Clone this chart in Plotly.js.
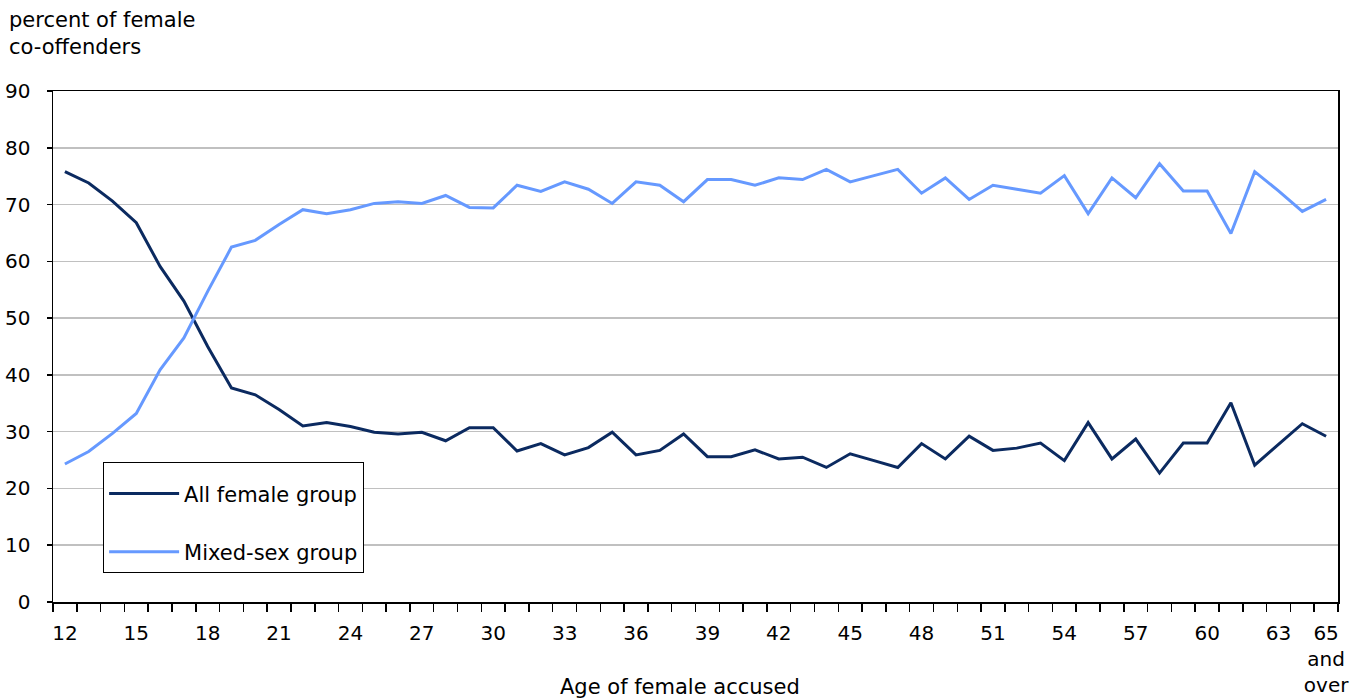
<!DOCTYPE html>
<html>
<head>
<meta charset="utf-8">
<script src="https://cdn.plot.ly/plotly-3.0.1.min.js"></script>
<style>
html,body{margin:0;padding:0;background:#fff;}
#chart{width:1366px;height:700px;}
</style>
</head>
<body>
<div id="chart"></div>
<script>
const ages = [12,13,14,15,16,17,18,19,20,21,22,23,24,25,26,27,28,29,30,31,32,33,34,35,36,37,38,39,40,41,42,43,44,45,46,47,48,49,50,51,52,53,54,55,56,57,58,59,60,61,62,63,64,65];
const allFemale = [75.8,73.8,70.6,66.8,59.1,53.0,45.0,37.7,36.5,33.9,
  31.0,31.6,30.9,29.9,29.6,29.9,28.4,30.7,30.7,26.6,
  27.9,25.9,27.2,29.9,25.9,26.7,29.6,25.6,25.6,26.8,
  25.2,25.5,23.7,26.1,24.9,23.7,27.9,25.2,29.2,26.7,
  27.1,28.0,24.9,31.6,25.2,28.7,22.7,28.0,28.0,35.1,
  24.1,27.7,31.4,29.2];
const mixedSex = [24.3,26.5,29.7,33.2,40.9,46.5,54.7,62.5,63.7,66.5,
  69.1,68.4,69.1,70.2,70.5,70.2,71.6,69.5,69.4,73.4,
  72.3,74.0,72.7,70.2,74.0,73.4,70.5,74.4,74.4,73.4,
  74.7,74.4,76.2,74.0,75.1,76.2,72.0,74.7,70.9,73.4,
  72.7,72.0,75.1,68.4,74.7,71.2,77.2,72.4,72.4,64.9,
  75.8,72.4,68.8,70.9];
const xTickVals = [12,15,18,21,24,27,30,33,36,39,42,45,48,51,54,57,60,63,65];
const xTickText = ['12','15','18','21','24','27','30','33','36','39','42','45','48','51','54','57','60','63','65<br>and<br>over'];
const yTickVals = [0,10,20,30,40,50,60,70,80,90];

const FONT = 'DejaVu Sans, Verdana, sans-serif';

const traces = [
  {x: ages, y: allFemale, name: 'All female group', type: 'scatter', mode: 'lines',
   line: {color: '#0b2a60', width: 3}, legendgroup: 'a'},
  {x: ages, y: mixedSex, name: 'Mixed-sex group', type: 'scatter', mode: 'lines',
   line: {color: '#6699ff', width: 3}, legendgroup: 'b'}
];

const layout = {
  width: 1366, height: 700,
  margin: {l: 53, r: 28, t: 91, b: 98},
  paper_bgcolor: '#fff', plot_bgcolor: '#fff',
  font: {family: FONT, size: 20, color: '#000'},
  showlegend: true,
  legend: {
    x: 0.039, y: 0.274, xanchor: 'left', yanchor: 'top',
    bgcolor: '#fff', bordercolor: '#000', borderwidth: 1,
    font: {family: FONT, size: 21, color: '#000'},
    title: {text: ' ', font: {family: FONT, size: 8}},
    traceorder: 'grouped', tracegroupgap: 28,
    itemwidth: 70
  },
  xaxis: {
    type: 'linear', range: [11.5, 65.5], fixedrange: true,
    tickmode: 'array', tickvals: xTickVals, ticktext: xTickText,
    ticks: '', showgrid: false, zeroline: false,
    showline: true, linecolor: '#000', linewidth: 1.5, mirror: true,
    ticklabelstandoff: 12,
    tickfont: {family: FONT, size: 20, color: '#000'},
    minor: {ticks: 'outside', tick0: 11.5, dtick: 1, ticklen: 8, tickwidth: 1.5, tickcolor: '#000', showgrid: false}
  },
  yaxis: {
    range: [0, 90], fixedrange: true,
    tickmode: 'array', tickvals: yTickVals,
    ticks: 'outside', ticklen: 5, tickwidth: 1.5, tickcolor: '#000',
    showgrid: true, gridcolor: '#c0c0c0', gridwidth: 1.5, zeroline: false,
    showline: true, linecolor: '#000', linewidth: 1.5, mirror: true,
    ticklabelstandoff: 12,
    tickfont: {family: FONT, size: 20, color: '#000'}
  },
  annotations: [
    {text: 'percent of female<br>co-offenders', xref: 'paper', yref: 'paper',
     x: -0.0355, y: 1.167, xanchor: 'left', yanchor: 'top', align: 'left', showarrow: false,
     font: {family: FONT, size: 21, color: '#000'}},
    {text: 'Age of female accused', xref: 'paper', yref: 'paper',
     x: 0.488, y: -0.166, xanchor: 'center', yanchor: 'middle', showarrow: false,
     font: {family: FONT, size: 21, color: '#000'}}
  ]
};

Plotly.newPlot('chart', traces, layout, {displayModeBar: false, staticPlot: true});
</script>
</body>
</html>
